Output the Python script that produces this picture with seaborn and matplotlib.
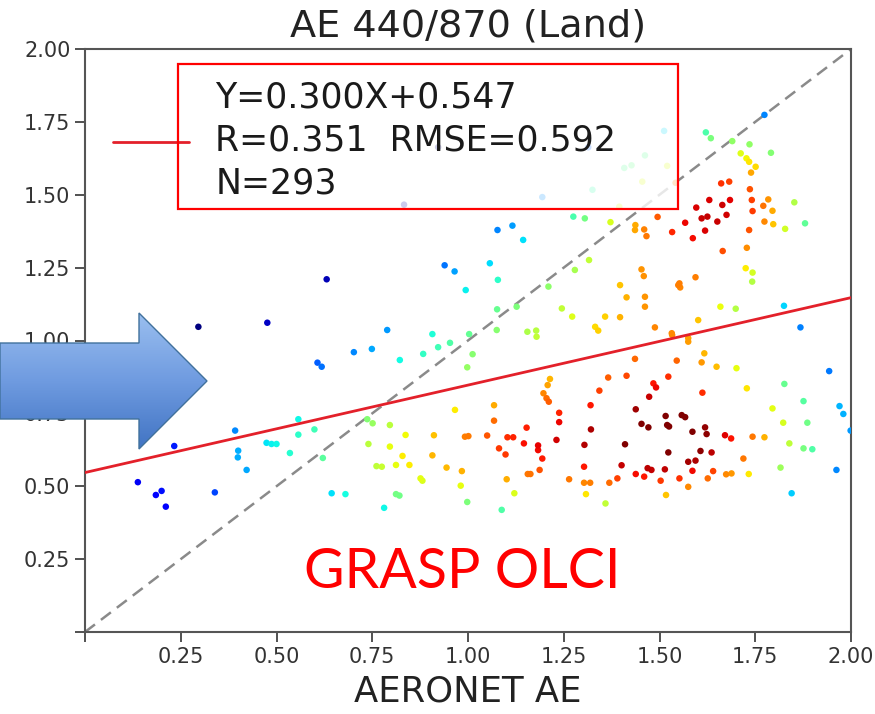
import numpy as np
import pandas as pd
import matplotlib
matplotlib.use("Agg")
import matplotlib.pyplot as plt
import seaborn as sns
from matplotlib.patches import Polygon, Rectangle
from matplotlib.colors import LinearSegmentedColormap

# ---------------- data ----------------
aeronet_ae = [
    0.631, 0.296, 0.476,
    0.833, 1.194, 0.922, 1.314, 1.512, 1.462, 1.408, 1.427, 1.520, 1.455, 1.325, 1.542,
    1.395, 1.275, 1.305, 1.372, 1.437, 1.436, 1.466, 1.460, 1.495, 1.533, 1.077, 1.116,
    1.144, 0.939, 0.965, 1.057, 1.078, 0.994, 1.316, 1.279, 1.210, 1.076, 1.127, 1.245,
    1.272, 1.358, 1.397, 1.453, 1.459, 1.397, 1.414, 1.462, 1.462, 1.488, 1.332, 1.340,
    1.549, 0.789, 0.907, 1.075, 1.155, 1.178, 1.533, 1.003,
    1.621, 1.634, 1.774, 1.690, 1.735, 1.791, 1.712, 1.727, 1.734, 1.751, 1.739, 1.661,
    1.682, 1.736, 1.630, 1.684, 1.596, 1.664, 1.741, 1.743, 1.784, 1.771, 1.795, 1.852,
    1.880, 1.828, 1.797, 1.774, 1.567, 1.610, 1.625, 1.651, 1.675, 1.619, 1.587, 1.734,
    1.728, 1.665, 1.725, 1.743, 1.742, 1.594, 1.552, 1.554, 1.659, 1.699, 1.601, 1.825,
    1.868, 1.532, 1.575,
    0.702, 0.749, 0.607, 0.618, 0.233, 0.392, 0.400, 0.399, 0.422, 0.474, 0.487, 0.500,
    0.557, 0.557, 0.599, 0.535, 0.621, 0.644, 0.680, 0.339, 0.138, 0.185, 0.200, 0.211,
    0.737, 0.751, 0.740, 0.761,
    0.822, 0.883, 0.922, 0.953, 1.012, 0.998, 1.179, 1.436, 1.545, 1.366, 1.414, 1.523,
    1.214, 1.208, 1.197, 1.205, 1.211, 1.343, 1.484, 1.491, 1.473, 1.068, 0.966, 1.238,
    1.320, 1.438, 1.516, 1.068, 1.238, 1.153, 1.321, 1.453, 1.471, 1.520, 1.525, 0.796,
    0.837, 0.911, 0.992, 1.001, 1.050, 1.103, 1.118, 1.146, 1.081, 1.098, 1.183, 1.183,
    1.194, 1.231, 1.304, 1.410, 1.523, 0.796, 0.829, 0.812, 0.847, 0.907, 0.775, 0.944,
    0.984, 0.876, 0.881, 0.981, 1.101, 1.156, 1.163, 1.187, 1.121, 0.812, 0.821, 0.781,
    0.998, 1.088, 1.264, 1.303, 1.303, 1.319, 1.308, 1.359, 1.369, 1.390, 1.401, 1.438,
    1.460, 1.469, 1.479, 1.514, 1.503, 1.517,
    1.575, 1.617, 1.610, 1.649, 1.701, 1.728, 1.612, 1.558, 1.567, 1.586, 1.619, 1.623,
    1.671, 1.687, 1.743, 1.774, 1.607, 1.636, 1.719, 1.575, 1.594, 1.586, 1.640, 1.552,
    1.626, 1.674, 1.688, 1.733, 1.575, 1.795, 1.826, 1.876, 1.823, 1.886, 1.839, 1.876,
    1.899, 1.816, 1.845, 1.943, 1.970, 1.980, 1.999, 1.962,
]
grasp_ae = [
    1.210, 1.047, 1.061,
    1.466, 1.492, 1.663, 1.663, 1.719, 1.635, 1.592, 1.601, 1.599, 1.545, 1.517, 1.541,
    1.459, 1.425, 1.419, 1.406, 1.396, 1.379, 1.358, 1.381, 1.424, 1.372, 1.379, 1.394,
    1.345, 1.258, 1.237, 1.265, 1.208, 1.173, 1.276, 1.242, 1.185, 1.107, 1.116, 1.110,
    1.082, 1.082, 1.080, 1.244, 1.221, 1.190, 1.148, 1.150, 1.116, 1.045, 1.047, 1.034,
    1.190, 1.036, 1.022, 1.036, 1.030, 1.034, 1.019, 1.022,
    1.714, 1.694, 1.774, 1.684, 1.673, 1.644, 1.642, 1.625, 1.613, 1.596, 1.576, 1.539,
    1.545, 1.519, 1.482, 1.482, 1.456, 1.465, 1.482, 1.444, 1.484, 1.462, 1.445, 1.474,
    1.402, 1.383, 1.399, 1.408, 1.404, 1.419, 1.425, 1.408, 1.431, 1.377, 1.351, 1.379,
    1.318, 1.307, 1.248, 1.233, 1.202, 1.217, 1.196, 1.182, 1.116, 1.109, 1.070, 1.119,
    1.045, 1.025, 1.008,
    0.960, 0.971, 0.924, 0.910, 0.638, 0.691, 0.622, 0.599, 0.556, 0.649, 0.645, 0.645,
    0.730, 0.677, 0.695, 0.614, 0.597, 0.476, 0.473, 0.479, 0.514, 0.470, 0.484, 0.430,
    0.730, 0.716, 0.645, 0.569,
    0.933, 0.954, 0.977, 0.992, 0.953, 0.908, 1.013, 0.937, 0.931, 0.873, 0.879, 0.876,
    0.868, 0.847, 0.819, 0.802, 0.790, 0.828, 0.853, 0.839, 0.807, 0.778, 0.762, 0.752,
    0.778, 0.764, 0.741, 0.725, 0.720, 0.701, 0.695, 0.714, 0.702, 0.710, 0.705, 0.710,
    0.676, 0.675, 0.670, 0.672, 0.674, 0.668, 0.668, 0.647, 0.630, 0.609, 0.640, 0.624,
    0.595, 0.659, 0.642, 0.644, 0.616, 0.636, 0.604, 0.573, 0.573, 0.606, 0.567, 0.564,
    0.552, 0.527, 0.519, 0.502, 0.524, 0.542, 0.542, 0.556, 0.476, 0.473, 0.468, 0.426,
    0.446, 0.419, 0.524, 0.567, 0.512, 0.512, 0.473, 0.441, 0.512, 0.527, 0.572, 0.542,
    0.533, 0.562, 0.556, 0.558, 0.519, 0.470,
    0.996, 0.956, 0.925, 0.910, 0.905, 0.836, 0.821, 0.744, 0.737, 0.687, 0.702, 0.679,
    0.675, 0.664, 0.670, 0.668, 0.621, 0.616, 0.595, 0.584, 0.588, 0.553, 0.552, 0.527,
    0.527, 0.541, 0.544, 0.542, 0.498, 0.767, 0.851, 0.792, 0.718, 0.718, 0.647, 0.630,
    0.627, 0.564, 0.476, 0.895, 0.775, 0.748, 0.691, 0.556,
]
fit_slope = 0.300
fit_intercept = 0.547
stat_r = 0.351
stat_rmse = 0.592
stat_n = 293
tick_values = [0.0, 0.25, 0.50, 0.75, 1.00, 1.25, 1.50, 1.75, 2.00]
tick_labels = ["", "0.25", "0.50", "0.75", "1.00", "1.25", "1.50", "1.75", "2.00"]
title_text = "AE 440/870 (Land)"
xlabel_text = "AERONET AE"
overlay_text = "GRASP OLCI"

# ---------------- figure ----------------
sns.set_theme(style="ticks")
plt.rcParams["font.family"] = ["DejaVu Sans"]

W, H = 875, 714
fig = plt.figure(figsize=(W / 100, H / 100), dpi=100)
ax = fig.add_axes([85 / W, 1 - 632 / H, (851 - 85) / W, (632 - 49) / H])

x = np.asarray(aeronet_ae)
y = np.asarray(grasp_ae)
bw = 0.16
d2 = ((x[:, None] - x[None, :]) ** 2 + (y[:, None] - y[None, :]) ** 2) / bw ** 2
dens = np.exp(-0.5 * d2).sum(axis=1)
df = pd.DataFrame({"aeronet": x, "grasp": y, "density": dens}).sort_values("density")

sns.scatterplot(data=df, x="aeronet", y="grasp", hue="density",
                palette=matplotlib.colormaps["jet"],
                hue_norm=(dens.min(), np.quantile(dens, 0.97)), s=22, linewidth=0,
                legend=False, ax=ax, zorder=3)

# 1:1 line
ax.plot([0, 2], [0, 2], color="#8a8a8a", lw=1.8, ls=(0, (5, 3)), zorder=2)

# regression line
xs = np.array([0.0, 2.0])
label = f"Y={fit_slope:.3f}X+{fit_intercept:.3f}\nR={stat_r:.3f}  RMSE={stat_rmse:.3f}\nN={stat_n}"
ax.plot(xs, fit_slope * xs + fit_intercept, color="#e3202a", lw=2.0, label=label, zorder=4)

ax.set_xlim(0, 2)
ax.set_ylim(0, 2)
ax.set_xticks(tick_values)
ax.set_xticklabels(tick_labels)
ax.set_yticks(tick_values)
ax.set_yticklabels(tick_labels)
ax.tick_params(axis="both", labelsize=15, colors="#333333", length=7, width=1.2)
for sp in ax.spines.values():
    sp.set_color("#555555")
    sp.set_linewidth(1.5)
ax.set_xlabel(xlabel_text, fontsize=25.5, color="#222222", labelpad=6)
ax.set_ylabel("")
ax.set_title(title_text, fontsize=27.5, color="#222222", pad=9)

# red box behind legend text
box = Rectangle((178 / W, 1 - 209 / H), 500 / W, 145 / H, transform=fig.transFigure,
                facecolor="white", alpha=0.8, edgecolor="none", zorder=4.5)
ax.add_patch(box)
box_edge = Rectangle((178 / W, 1 - 209 / H), 500 / W, 145 / H, transform=fig.transFigure,
                     facecolor="none", edgecolor="#ff0000", lw=1.6, zorder=6)
ax.add_patch(box_edge)

leg = ax.legend(loc="upper left", bbox_to_anchor=((113 - 85) / 766, (632 - 81) / 583),
                frameon=False, fontsize=25, handlelength=2.2, handletextpad=0.75,
                borderpad=0, borderaxespad=0)
for t in leg.get_texts():
    t.set_color("#1a1a1a")
    t.set_linespacing(1.32)

# overlay (arrow + text) in figure pixel space
ov = fig.add_axes([0, 0, 1, 1], zorder=10)
ov.axis("off")
ov.patch.set_alpha(0)

arrow_pts = [(0, 343), (139, 343), (139, 313), (207, 381), (139, 449), (139, 419), (0, 419)]
grad = np.linspace(0, 1, 256)[:, None]
cm = LinearSegmentedColormap.from_list("arr", ["#9cc0f0", "#6f9be0", "#3f72c2"])
im = ov.imshow(grad, cmap=cm, extent=[0, 210, 452, 310], aspect="auto", zorder=2,
               interpolation="bilinear")
ov.set_xlim(0, W)
ov.set_ylim(H, 0)
clip = Polygon(arrow_pts, closed=True, transform=ov.transData)
im.set_clip_path(clip)
poly = Polygon(arrow_pts, closed=True, facecolor="none", edgecolor="#41719c", lw=1.0, zorder=3)
ov.add_patch(poly)

ov.text(462, 573, overlay_text, color="#ff0000", fontsize=40, family=["Lato", "DejaVu Sans"],
        ha="center", va="center")

fig.savefig("out.png", dpi=100)
